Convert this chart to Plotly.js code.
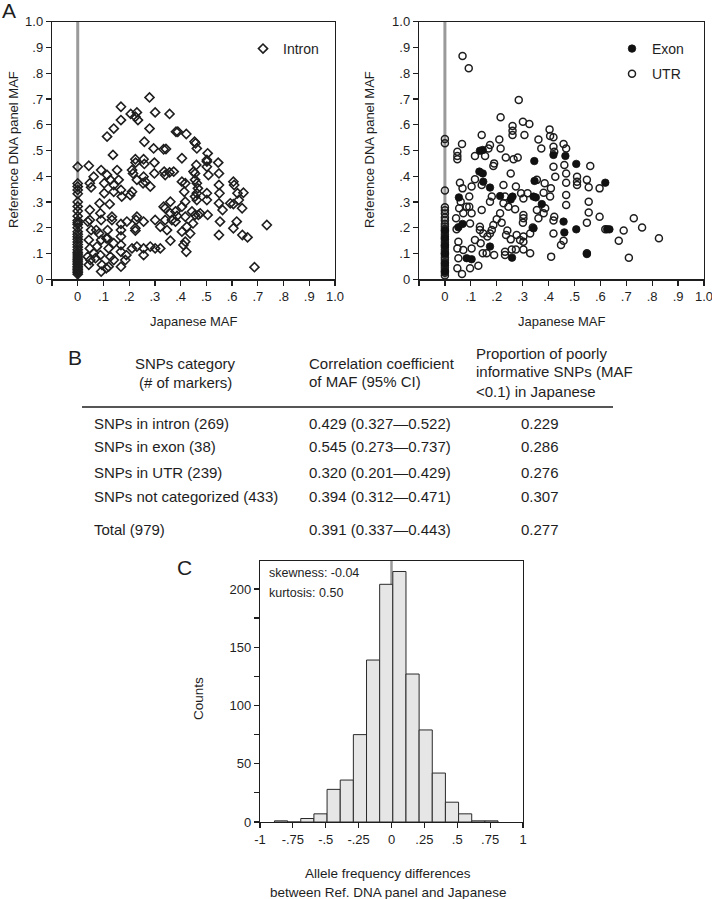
<!DOCTYPE html>
<html>
<head>
<meta charset="utf-8">
<script src="https://cdn.plot.ly/plotly-3.0.1.min.js"></script>
<style>html,body{margin:0;padding:0;background:#fff;}#chart{width:712px;height:899px;}</style>
</head>
<body>
<div id="chart"></div>
<script>
// ---------- DATA ----------
// Panel A left: SNPs in intron (Japanese MAF, Reference DNA panel MAF)
const intronX = [0.279,0.168,0.206,0.230,0.224,0.234,0.168,0.301,0.357,0.279,0.140,0.114,0.382,0.389,0.422,0.259,0.454,0.458,0.463,0.295,0.334,0.343,0.137,0.405,0.505,0.502,0.502,0.546,0.298,0.043,0.091,0.153,0.224,0.225,0.256,0.259,0.461,0.450,0.456,0.502,0.508,0.549,0.373,0.357,0.336,0.340,0.298,0.211,0.215,0.256,0.263,0.254,0.230,0.114,0.127,0.159,0.047,0.052,0.062,0.103,0.140,0.168,0.171,0.140,0.211,0.204,0.282,0.405,0.418,0.456,0.463,0.467,0.463,0.502,0.549,0.551,0.605,0.608,0.621,0.644,0.626,0.639,0.593,0.605,0.549,0.563,0.502,0.463,0.456,0.414,0.418,0.405,0.360,0.334,0.340,0.360,0.380,0.386,0.380,0.366,0.418,0.444,0.456,0.469,0.505,0.448,0.424,0.405,0.437,0.418,0.411,0.422,0.360,0.340,0.301,0.321,0.347,0.321,0.301,0.282,0.256,0.256,0.230,0.211,0.230,0.227,0.256,0.224,0.224,0.191,0.168,0.168,0.168,0.168,0.168,0.168,0.185,0.189,0.133,0.133,0.111,0.116,0.088,0.091,0.072,0.083,0.091,0.047,0.039,0.043,0.052,0.047,0.085,0.103,0.124,0.047,0.039,0.049,0.043,0.069,0.088,0.094,0.091,0.111,0.120,0.127,0.140,0.075,0.062,0.120,0.140,0.116,0.549,0.553,0.605,0.618,0.640,0.660,0.735,0.687,0.476,
  0,0,0,0,0,0,0,0,0,0,0,0,0,0,0,0,0,0,0,0,0,0,0,0,0,0,0,0,0,0,0,0,0,0,0];
const intronY = [0.706,0.670,0.642,0.648,0.631,0.618,0.618,0.648,0.642,0.585,0.585,0.554,0.573,0.573,0.564,0.534,0.534,0.528,0.508,0.508,0.505,0.506,0.483,0.470,0.489,0.463,0.457,0.453,0.453,0.441,0.424,0.424,0.466,0.453,0.466,0.448,0.444,0.418,0.411,0.437,0.405,0.411,0.418,0.415,0.418,0.405,0.411,0.424,0.411,0.398,0.379,0.373,0.386,0.405,0.386,0.386,0.373,0.357,0.398,0.373,0.366,0.347,0.321,0.340,0.340,0.327,0.360,0.379,0.373,0.386,0.373,0.353,0.334,0.334,0.366,0.334,0.379,0.366,0.334,0.336,0.308,0.276,0.295,0.292,0.295,0.269,0.308,0.308,0.321,0.340,0.301,0.282,0.301,0.282,0.276,0.256,0.263,0.246,0.224,0.230,0.243,0.263,0.250,0.250,0.250,0.217,0.204,0.185,0.178,0.146,0.133,0.107,0.150,0.230,0.230,0.204,0.191,0.120,0.120,0.127,0.120,0.094,0.127,0.120,0.243,0.230,0.224,0.198,0.189,0.224,0.215,0.191,0.166,0.133,0.107,0.049,0.075,0.094,0.243,0.230,0.159,0.159,0.256,0.230,0.191,0.178,0.153,0.230,0.224,0.153,0.191,0.269,0.295,0.334,0.292,0.120,0.088,0.075,0.056,0.082,0.094,0.056,0.030,0.043,0.049,0.088,0.075,0.127,0.101,0.120,0.140,0.191,0.172,0.224,0.198,0.224,0.172,0.163,0.211,0.047,0.256,
  0.437,0.372,0.360,0.347,0.332,0.300,0.283,0.265,0.245,0.228,0.220,0.213,0.200,0.185,0.175,0.165,0.155,0.145,0.135,0.125,0.115,0.105,0.098,0.090,0.083,0.076,0.070,0.063,0.057,0.050,0.044,0.038,0.032,0.026,0.020];

// Panel A right: SNPs in exon
const exonX = [0.135,0.146,0.133,0.146,0.148,0.174,0.054,0.052,0.068,0.174,0.084,0.103,0.213,0.254,0.261,0.259,0.345,0.346,0.342,0.351,0.374,0.342,0.419,0.465,0.507,0.458,0.461,0.507,0.619,0.626,0.635,0.548,0,0,0,0,0,0];
const exonY = [0.499,0.502,0.418,0.411,0.379,0.356,0.318,0.202,0.215,0.127,0.082,0.078,0.323,0.310,0.321,0.084,0.459,0.382,0.321,0.318,0.292,0.198,0.483,0.479,0.448,0.224,0.182,0.194,0.375,0.194,0.194,0.098,0.190,0.160,0.130,0.100,0.060,0.030];

// Panel A right: SNPs in UTR
const utrX = [0.068,0.092,0.285,0.215,0.301,0.326,0.261,0.261,0.261,0.307,0.404,0.406,0.419,0.142,0.210,0.361,0.372,0.066,0.048,0.048,0.048,0.116,0.155,0.168,0.174,0.215,0.235,0.281,0.265,0.419,0.422,0.419,0.426,0.458,0.468,0.461,0.468,0.468,0.468,0.468,0.510,0.510,0.510,0.561,0.548,0.555,0.555,0.597,0.555,0.548,0.597,0.619,0.671,0.690,0.729,0.761,0.826,0.710,0.548,0.410,0.458,0.448,0.419,0.422,0.419,0.381,0.387,0.361,0.355,0.381,0.406,0.409,0.385,0.329,0.303,0.303,0.303,0.277,0.290,0.274,0.258,0.254,0.236,0.232,0.241,0.200,0.219,0.187,0.181,0.174,0.164,0.148,0.135,0.135,0.103,0.116,0.138,0.146,0.161,0.190,0.129,0.097,0.066,0.048,0.052,0.048,0.052,0.071,0.045,0.043,0.055,0.061,0.071,0.084,0.094,0.103,0.097,0.094,0.058,0.068,0.103,0.116,0.142,0.142,0.181,0.174,0.187,0.190,0.226,0.232,0.226,0.254,0.274,0.294,0.303,0.319,0.303,0.303,0.301,0.271,0.245,0.329,0.339,0.355,0.232,0.213,
  0,0,0,0,0,0,0,0,0,0,0,0,0,0,0,0,0,0,0,0,0,0,0,0,0,0,0,0,0];
const utrY = [0.867,0.819,0.696,0.629,0.612,0.603,0.595,0.577,0.560,0.560,0.582,0.556,0.551,0.560,0.543,0.543,0.508,0.525,0.495,0.479,0.466,0.479,0.479,0.508,0.521,0.508,0.473,0.473,0.466,0.515,0.495,0.437,0.398,0.525,0.508,0.444,0.411,0.375,0.327,0.288,0.398,0.379,0.366,0.440,0.386,0.357,0.301,0.353,0.259,0.220,0.243,0.194,0.150,0.189,0.237,0.201,0.159,0.084,0.101,0.088,0.150,0.133,0.178,0.243,0.228,0.256,0.276,0.237,0.269,0.336,0.321,0.353,0.373,0.101,0.116,0.146,0.166,0.172,0.153,0.116,0.116,0.155,0.172,0.107,0.189,0.233,0.220,0.211,0.191,0.178,0.166,0.178,0.191,0.204,0.120,0.153,0.140,0.101,0.101,0.094,0.053,0.043,0.021,0.043,0.082,0.120,0.146,0.114,0.194,0.237,0.276,0.301,0.256,0.282,0.282,0.256,0.217,0.321,0.375,0.353,0.360,0.388,0.269,0.366,0.321,0.301,0.440,0.450,0.366,0.321,0.295,0.411,0.360,0.334,0.314,0.334,0.250,0.237,0.220,0.272,0.282,0.178,0.201,0.386,0.094,0.256,
  0.545,0.528,0.345,0.280,0.268,0.255,0.240,0.228,0.215,0.205,0.195,0.185,0.175,0.165,0.155,0.145,0.135,0.125,0.115,0.105,0.095,0.085,0.075,0.065,0.055,0.045,0.035,0.025,0.015];

// Panel B table
const tableCategories = ["SNPs in intron (269)", "SNPs in exon (38)", "SNPs in UTR (239)", "SNPs not categorized (433)", "Total (979)"];
const tableCorrelation = ["0.429 (0.327\u20140.522)", "0.545 (0.273\u20140.737)", "0.320 (0.201\u20140.429)", "0.394 (0.312\u20140.471)", "0.391 (0.337\u20140.443)"];
const tableProportion = ["0.229", "0.286", "0.276", "0.307", "0.277"];
const tableHeader1 = ["SNPs category", "(# of markers)"];
const tableHeader2 = ["Correlation coefficient", "of MAF (95% CI)"];
const tableHeader3 = ["Proportion of poorly", "informative SNPs (MAF", "&lt;0.1) in Japanese"];

// Panel C histogram (bin centres, counts)
const histBinCenters = [-0.84,-0.74,-0.64,-0.54,-0.44,-0.34,-0.24,-0.14,-0.04,0.06,0.16,0.26,0.36,0.46,0.56,0.66,0.76];
const histCounts = [1,0,3,7,28,36,75,139,204,215,127,79,42,17,7,1,1];
const histTickVals = [-1,-0.75,-0.5,-0.25,0,0.25,0.5,0.75,1];
const histTickText = ["-1","-.75","-.5","-.25","0",".25",".5",".75","1"];
const histStats = ["skewness: -0.04", "kurtosis: 0.50"];

const mafTickVals = [-0.1,0,0.1,0.2,0.3,0.4,0.5,0.6,0.7,0.8,0.9,1.0];
const mafTickTextX = ["","0",".1",".2",".3",".4",".5",".6",".7",".8",".9","1.0"];
const mafTickValsY = [0,0.1,0.2,0.3,0.4,0.5,0.6,0.7,0.8,0.9,1.0];
const mafTickTextY = ["0",".1",".2",".3",".4",".5",".6",".7",".8",".9","1.0"];

// ---------- LAYOUT HELPERS ----------
const W = 712, H = 899;
const FONT = "Liberation Sans, Arial, Helvetica, sans-serif";
const INK = "#1e1e1e";
const px = p => p / W;
const py = p => 1 - p / H;

function ann(text, x, y, size, opts) {
  return Object.assign({
    text: text, xref: "paper", yref: "paper", x: px(x), y: py(y),
    xanchor: "center", yanchor: "middle", showarrow: false,
    font: {family: FONT, size: size, color: INK}
  }, opts || {});
}

const axisCommon = {
  showline: true, linecolor: INK, linewidth: 1.2, mirror: true,
  ticks: "outside", ticklen: 5, tickwidth: 1.2, tickcolor: INK,
  showgrid: false, zeroline: false, fixedrange: true,
  ticklabeloverflow: "allow",
  tickfont: {family: FONT, size: 13, color: INK}
};

const traces = [
  {type: "scatter", mode: "markers", x: intronX, y: intronY, xaxis: "x", yaxis: "y",
   name: "Intron", legend: "legend",
   marker: {symbol: "diamond-open", size: 7, color: INK, line: {width: 1.6, color: INK}}},
  {type: "scatter", mode: "markers", x: utrX, y: utrY, xaxis: "x2", yaxis: "y2",
   name: "UTR", legend: "legend2", legendgroup: "utr", legendrank: 2,
   marker: {symbol: "circle-open", size: 7, color: INK, line: {width: 1.5, color: INK}}},
  {type: "scatter", mode: "markers", x: exonX, y: exonY, xaxis: "x2", yaxis: "y2",
   name: "Exon", legend: "legend2", legendgroup: "exon", legendrank: 1,
   marker: {symbol: "circle", size: 7.5, color: "#111", line: {width: 0.8, color: "#111"}}},
  {type: "bar", x: histBinCenters, y: histCounts, width: 0.1, xaxis: "x3", yaxis: "y3",
   showlegend: false,
   marker: {color: "#e6e6e6", line: {color: "#2a2a2a", width: 1}}}
];

const annotations = [
  ann("A", 9, 10, 21),
  ann("Japanese MAF", 193, 322, 13),
  ann("Japanese MAF", 561, 322, 13),
  ann("Reference DNA panel MAF", 13, 150, 13, {textangle: -90}),
  ann("Reference DNA panel MAF", 369, 150, 13, {textangle: -90}),
  ann("B", 75, 357, 21),
  ann("C", 184, 567, 21),
  ann("Counts", 198, 699, 13.5, {textangle: -90}),
  ann("Allele frequency differences", 388, 873, 13.5),
  ann("between Ref. DNA panel and Japanese", 388, 892, 13.5),
  ann(histStats[0], 267, 573, 12.5, {xanchor: "left"}),
  ann(histStats[1], 267, 593, 12.5, {xanchor: "left"})
];
// table header
const h1Y = [363, 383], h2Y = [363, 381], h3Y = [353, 372, 391];
tableHeader1.forEach((t, i) => annotations.push(ann(t, 185, h1Y[i], 15)));
tableHeader2.forEach((t, i) => annotations.push(ann(t, 307, h2Y[i], 15, {xanchor: "left"})));
tableHeader3.forEach((t, i) => annotations.push(ann(t, 474, h3Y[i], 15, {xanchor: "left"})));
// table rows
const rowY = [423, 447, 472, 496, 529];
tableCategories.forEach((t, i) => {
  annotations.push(ann(t, 92, rowY[i], 15, {xanchor: "left"}));
  annotations.push(ann(tableCorrelation[i], 307, rowY[i], 15, {xanchor: "left"}));
  annotations.push(ann(tableProportion[i], 540, rowY[i], 15));
});

const shapes = [
  {type: "line", xref: "x", yref: "y domain", x0: 0, x1: 0, y0: 0, y1: 1, layer: "below",
   line: {color: "#9a9a9a", width: 3}},
  {type: "line", xref: "x2", yref: "y2 domain", x0: 0, x1: 0, y0: 0, y1: 1, layer: "below",
   line: {color: "#9a9a9a", width: 3}},
  {type: "line", xref: "x3", yref: "y3 domain", x0: 0, x1: 0, y0: 0, y1: 1, layer: "below",
   line: {color: "#9a9a9a", width: 2.5}},
  {type: "line", xref: "paper", yref: "paper", x0: px(82), x1: px(613), y0: py(407), y1: py(407),
   line: {color: INK, width: 1.5}}
];

const layout = {
  width: W, height: H, margin: {l: 0, r: 0, t: 0, b: 0},
  paper_bgcolor: "#fff", plot_bgcolor: "rgba(0,0,0,0)",
  font: {family: FONT, color: INK},
  showlegend: true,
  xaxis: Object.assign({}, axisCommon, {domain: [px(52), px(335)], range: [-0.1, 1.0], anchor: "y",
    tickmode: "array", tickvals: mafTickVals, ticktext: mafTickTextX}),
  yaxis: Object.assign({}, axisCommon, {domain: [py(279.3), py(21.7)], range: [0, 1], anchor: "x",
    tickmode: "array", tickvals: mafTickValsY, ticktext: mafTickTextY}),
  xaxis2: Object.assign({}, axisCommon, {domain: [px(419), px(704)], range: [-0.1, 1.0], anchor: "y2",
    tickmode: "array", tickvals: mafTickVals, ticktext: mafTickTextX}),
  yaxis2: Object.assign({}, axisCommon, {domain: [py(279.3), py(21.7)], range: [0, 1], anchor: "x2",
    tickmode: "array", tickvals: mafTickValsY, ticktext: mafTickTextY}),
  xaxis3: Object.assign({}, axisCommon, {domain: [px(260), px(523)], range: [-1, 1], anchor: "y3",
    tickmode: "array", tickvals: histTickVals, ticktext: histTickText}),
  yaxis3: Object.assign({}, axisCommon, {domain: [py(822), py(561)], range: [0, 224], anchor: "x3",
    tickmode: "array", tickvals: [0,25,50,75,100,125,150,175,200], ticktext: ["0","","50","","100","","150","","200"]}),
  legend: {x: px(243), y: py(33), xanchor: "left", yanchor: "top", bgcolor: "rgba(0,0,0,0)",
    font: {family: FONT, size: 14, color: INK}},
  legend2: {x: px(612), y: py(33), xanchor: "left", yanchor: "top", bgcolor: "rgba(0,0,0,0)",
    traceorder: "grouped", tracegroupgap: 4,
    font: {family: FONT, size: 14, color: INK}},
  annotations: annotations,
  shapes: shapes,
  bargap: 0
};

Plotly.newPlot("chart", traces, layout, {staticPlot: true, displayModeBar: false});
</script>
</body>
</html>
